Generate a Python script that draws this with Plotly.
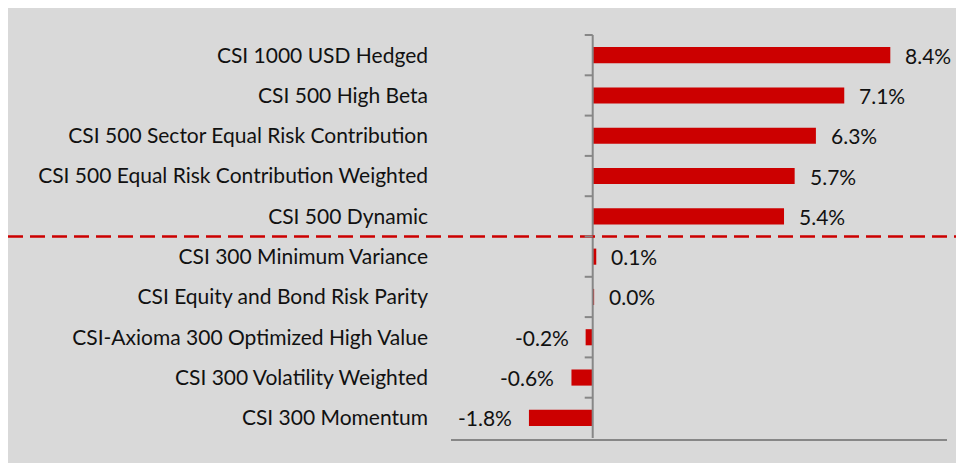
import plotly.graph_objects as go

categories = [
    "CSI 1000 USD Hedged",
    "CSI 500 High Beta",
    "CSI 500 Sector Equal Risk Contribution",
    "CSI 500 Equal Risk Contribution Weighted",
    "CSI 500 Dynamic",
    "CSI 300 Minimum Variance",
    "CSI Equity and Bond Risk Parity",
    "CSI-Axioma 300 Optimized High Value",
    "CSI 300 Volatility Weighted",
    "CSI 300 Momentum",
]
values = [8.4, 7.1, 6.3, 5.7, 5.4, 0.1, 0.04, -0.2, -0.6, -1.8]
divider_after = 4.5  # boundary between top group and bottom group

OFF = 8  # page body margin
W, H = 964 - OFF, 463 - OFF
L, R, T, B = 451 - OFF, 947 - OFF, 34 - OFF, 439 - OFF
FONT = "Lato"
FS = 21
RED = "#cc0000"
GREY_AX = "#878787"

fig = go.Figure()
fig.add_trace(go.Bar(
    x=values, y=categories, orientation="h",
    marker=dict(color=RED, line=dict(width=0)),
    hoverinfo="skip",
))

annotations = []
for c, v in zip(categories, values):
    pos = v >= 0
    annotations.append(dict(
        x=v, y=c, xref="x", yref="y",
        text=f"{v:.1f}%", showarrow=False,
        xanchor="left" if pos else "right",
        xshift=13 if pos else -15,
        font=dict(family=FONT, size=FS, color="#111111"),
    ))

pw = R - L
shapes = [
    # vertical axis at zero
    dict(type="line", xref="x", yref="y", x0=0, x1=0, y0=-0.5, y1=len(categories) - 0.5,
         line=dict(color=GREY_AX, width=2)),
    # dashed divider
    dict(type="line", xref="paper", yref="y",
         x0=-L / pw, x1=(W - L) / pw + 0.01, y0=divider_after, y1=divider_after,
         line=dict(color=RED, width=2.5, dash="15px,7px")),
]
for i in range(len(categories)):
    b = i - 0.5
    shapes.append(dict(type="line", xref="x", yref="y", xsizemode="pixel", xanchor=0,
                       x0=-8, x1=0, y0=b, y1=b, line=dict(color=GREY_AX, width=2)))

fig.update_layout(
    width=W, height=H,
    margin=dict(l=L, r=W - R, t=T, b=H - B, pad=0),
    paper_bgcolor="#d9d9d9",
    plot_bgcolor="#d9d9d9",
    bargap=0.6,
    showlegend=False,
    shapes=shapes,
    annotations=annotations,
    font=dict(family=FONT, size=FS, color="#111111"),
    xaxis=dict(range=[-4, 10], showgrid=False, zeroline=False, showticklabels=False,
               showline=True, linecolor=GREY_AX, linewidth=2, ticks="", fixedrange=True),
    yaxis=dict(categoryorder="array", categoryarray=categories, autorange="reversed",
               showgrid=False, zeroline=False, showline=False, ticks="",
               ticklabelstandoff=22,
               tickfont=dict(family=FONT, size=FS, color="#111111")),
)

fig.write_html("out.html")
